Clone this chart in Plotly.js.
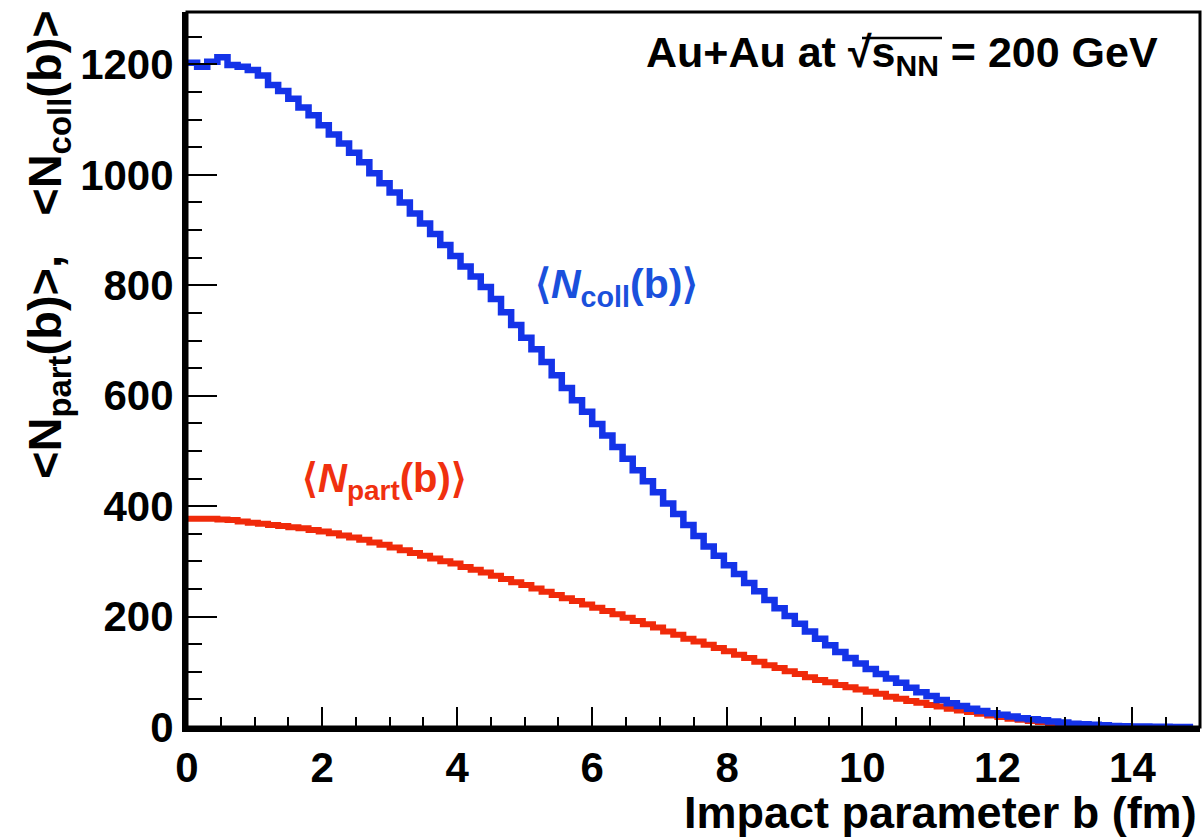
<!DOCTYPE html>
<html>
<head>
<meta charset="utf-8">
<script src="https://cdn.plot.ly/plotly-3.0.1.min.js"></script>
<style>html,body{margin:0;padding:0;background:#fff;}#chart{width:1203px;height:838px;}</style>
</head>
<body>
<div id="chart"></div>
<script>
// Histogram binning: 100 bins of 0.15 fm from 0 to 15 fm
const binStart = 0;
const binWidth = 0.15;

// <N_coll(b)> per bin
const ncoll = [
  1203, 1196, 1205, 1213, 1199, 1196, 1190, 1180, 1163, 1152,
  1138, 1122, 1108, 1090, 1073, 1057, 1040, 1023, 1003, 985,
  968, 950, 930, 912, 893, 873, 853, 834, 816, 797,
  775, 751, 728, 705, 684, 661, 637, 614, 592, 571,
  549, 528, 507, 486, 465, 445, 425, 405, 386, 366,
  346, 327, 310, 293, 277, 261, 246, 230, 215, 201,
  187, 173, 160, 148, 136, 125, 115, 105, 96, 88,
  80, 71, 63, 56, 49, 43, 38, 33, 29, 25,
  22, 19, 16, 14, 12, 10, 8, 6, 5, 4,
  3, 2, 1.5, 1, 0.7, 0.5, 0.3, 0.2, 0.1, 0.05
];

// <N_part(b)> per bin
const npart = [
  377, 377, 377, 376, 375, 372, 370, 368, 366, 364,
  362, 360, 357, 354, 351, 347, 343, 339, 334, 330,
  325, 320, 315, 310, 305, 300, 296, 290, 285, 280,
  274, 268, 262, 257, 251, 245, 239, 233, 228, 222,
  216, 210, 204, 198, 192, 186, 180, 173, 167, 160,
  155, 149, 143, 137, 131, 125, 118, 112, 107, 101,
  96, 90, 85, 81, 76, 72, 68, 64, 60, 55,
  51, 47, 44, 40, 37, 33, 30, 27, 24, 21,
  18, 15, 13, 11, 9, 7, 6, 5, 4, 3, 2
];

const xTickVals = [0, 2, 4, 6, 8, 10, 12, 14];
const yTickVals = [0, 200, 400, 600, 800, 1000, 1200];

const BLUE = '#1433e8';
const RED = '#f02a0a';
const FONT = 'Liberation Sans, Arial, Helvetica, sans-serif';

const traces = [
  {
    type: 'scatter', mode: 'lines',
    x0: binStart, dx: binWidth, y: npart,
    line: {color: RED, width: 6, shape: 'hv'},
    hoverinfo: 'skip', showlegend: false
  },
  {
    type: 'scatter', mode: 'lines',
    x0: binStart, dx: binWidth, y: ncoll,
    line: {color: BLUE, width: 6.5, shape: 'hv'},
    hoverinfo: 'skip', showlegend: false
  }
];

const L = 187, R = 3, T = 12, B = 111, W = 1203, H = 838;
const pw = W - L - R, ph = H - T - B;
const px = v => (v - L) / pw;
const py = v => (H - B - v) / ph;

const layout = {
  width: W, height: H,
  margin: {l: L, r: R, t: T, b: B, pad: 0},
  paper_bgcolor: '#fff', plot_bgcolor: '#fff',
  showlegend: false,
  xaxis: {
    range: [0, 15], tickmode: 'array', tickvals: xTickVals,
    ticks: 'inside', ticklen: 20, tickwidth: 2, tickcolor: '#000',
    minor: {dtick: 0.5, ticks: 'inside', ticklen: 10, tickwidth: 2, tickcolor: '#000'},
    showline: true, linewidth: 5, linecolor: '#000',
    showgrid: false, zeroline: false,
    tickfont: {family: FONT, size: 42, color: '#000', weight: 'bold'}
  },
  yaxis: {
    range: [0, 1295], tickmode: 'array', tickvals: yTickVals,
    ticks: 'inside', ticklen: 30, tickwidth: 2, tickcolor: '#000',
    minor: {dtick: 50, ticks: 'inside', ticklen: 15, tickwidth: 2, tickcolor: '#000'},
    showline: true, linewidth: 5, linecolor: '#000',
    showgrid: false, zeroline: false,
    tickfont: {family: FONT, size: 42, color: '#000', weight: 'bold'}
  },
  shapes: [
    {type: 'rect', xref: 'paper', yref: 'paper', x0: 0, x1: 1, y0: 0, y1: 1,
     line: {color: '#000', width: 3}, layer: 'above'},
    {type: 'line', xref: 'paper', yref: 'paper', x0: px(862), x1: px(942), y0: py(38), y1: py(38),
     line: {color: '#000', width: 2.5}, layer: 'above'}
  ],
  annotations: [
    {xref: 'paper', yref: 'paper', x: px(48), y: py(245), xanchor: 'center', yanchor: 'middle',
     textangle: -90, showarrow: false,
     text: '<b>&lt;N<sub>part</sub>(b)&gt;,   &lt;N<sub>coll</sub>(b)&gt;</b>',
     font: {family: FONT, size: 47, color: '#000'}},
    {xref: 'paper', yref: 'paper', x: px(1199), y: py(812), xanchor: 'right', yanchor: 'middle',
     showarrow: false, text: '<b>Impact parameter b (fm)</b>',
     font: {family: FONT, size: 45, color: '#000'}},
    {xref: 'paper', yref: 'paper', x: px(1160), y: py(55), xanchor: 'right', yanchor: 'middle',
     showarrow: false, text: '<b>Au+Au at √s<sub>NN</sub> = 200 GeV</b>',
     font: {family: FONT, size: 43, color: '#000'}},
    {xref: 'paper', yref: 'paper', x: px(533), y: py(287), xanchor: 'left', yanchor: 'middle',
     showarrow: false, text: '<b>⟨<i>N</i><sub>coll</sub>(b)⟩</b>',
     font: {family: FONT, size: 41, color: '#1a50dc'}},
    {xref: 'paper', yref: 'paper', x: px(300), y: py(481), xanchor: 'left', yanchor: 'middle',
     showarrow: false, text: '<b>⟨<i>N</i><sub>part</sub>(b)⟩</b>',
     font: {family: FONT, size: 40, color: '#f0300f'}}
  ]
};

Plotly.newPlot('chart', traces, layout, {staticPlot: true, displayModeBar: false});
</script>
</body>
</html>
